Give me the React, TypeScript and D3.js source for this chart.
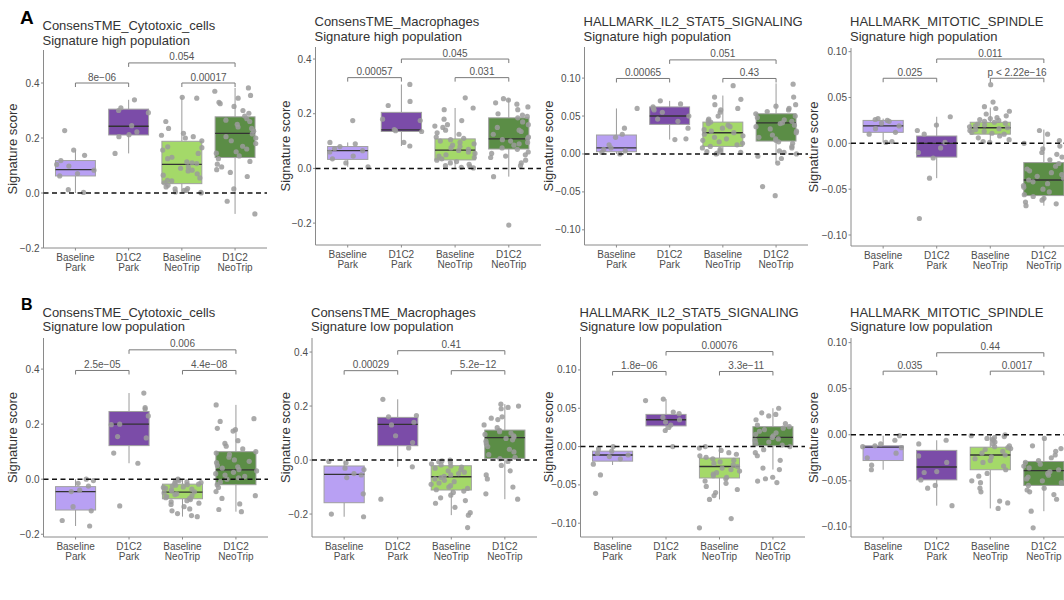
import React from "react";
import * as d3 from "d3";

// ---------- categories / styling ----------
const categories = ["Baseline Park", "D1C2 Park", "Baseline NeoTrip", "D1C2 NeoTrip"];
const categoryLines = [["Baseline", "Park"], ["D1C2", "Park"], ["Baseline", "NeoTrip"], ["D1C2", "NeoTrip"]];
const groupColors = ["#b8a0f3", "#7b4ca8", "#a4d969", "#5b8d46"];

const panelTitles = [
  "ConsensTME_Cytotoxic_cells", "ConsensTME_Macrophages", "HALLMARK_IL2_STAT5_SIGNALING", "HALLMARK_MITOTIC_SPINDLE",
  "ConsensTME_Cytotoxic_cells", "ConsensTME_Macrophages", "HALLMARK_IL2_STAT5_SIGNALING", "HALLMARK_MITOTIC_SPINDLE",
];
const panelSubtitles = [
  "Signature high population", "Signature high population", "Signature high population", "Signature high population",
  "Signature low population", "Signature low population", "Signature low population", "Signature low population",
];
// p-values: [Baseline Park vs D1C2 Park, D1C2 Park vs D1C2 NeoTrip, Baseline NeoTrip vs D1C2 NeoTrip]
const pValueLabels = [
  ["8e\u221206", "0.054", "0.00017"],
  ["0.00057", "0.045", "0.031"],
  ["0.00065", "0.051", "0.43"],
  ["0.025", "0.011", "p < 2.22e\u221216"],
  ["2.5e\u221205", "0.006", "4.4e\u221208"],
  ["0.00029", "0.41", "5.2e\u221212"],
  ["1.8e\u221206", "0.00076", "3.3e\u221211"],
  ["0.035", "0.44", "0.0017"],
];
const bracketLevels = [
  [0.4, 0.473], [0.332, 0.4], [0.0995, 0.124], [0.071, 0.092],
  [0.395, 0.47], [0.331, 0.405], [0.098, 0.124], [0.069, 0.089],
];
const yDomains = [
  [-0.2, 0.52], [-0.28, 0.444], [-0.12, 0.141], [-0.112, 0.104],
  [-0.21, 0.513], [-0.285, 0.452], [-0.118, 0.143], [-0.111, 0.105],
];
const yTicksWide = [-0.2, 0, 0.2, 0.4];
const yTicksNarrow = [-0.1, -0.05, 0, 0.05, 0.1];

// ---------- values: box stats [lower whisker, q1, median, q3, upper whisker] ----------
const cytoHighBoxes = [[0.0, 0.062, 0.085, 0.118, 0.156], [0.144, 0.211, 0.243, 0.305, 0.339], [0.0, 0.034, 0.104, 0.188, 0.348], [-0.076, 0.129, 0.217, 0.277, 0.382]];
const macroHighBoxes = [[0.006, 0.033, 0.065, 0.08, 0.095], [0.082, 0.135, 0.141, 0.205, 0.307], [0.0, 0.031, 0.067, 0.108, 0.221], [-0.03, 0.071, 0.108, 0.185, 0.255]];
const il2HighBoxes = [[0.0, 0.003, 0.008, 0.025, 0.06], [0.019, 0.039, 0.05, 0.062, 0.07], [0.0, 0.01, 0.028, 0.042, 0.077], [-0.012, 0.017, 0.041, 0.053, 0.093]];
const mitoHighBoxes = [[0.001, 0.012, 0.019, 0.025, 0.027], [-0.038, -0.015, 0.0, 0.008, 0.029], [0.0, 0.01, 0.017, 0.023, 0.039], [-0.068, -0.057, -0.04, -0.021, 0.015]];
const cytoLowBoxes = [[-0.17, -0.112, -0.045, -0.027, 0.0], [0.058, 0.122, 0.2, 0.246, 0.313], [-0.136, -0.071, -0.047, -0.018, 0.0], [-0.118, -0.02, 0.034, 0.1, 0.27]];
const macroLowBoxes = [[-0.21, -0.158, -0.053, -0.022, -0.002], [-0.025, 0.053, 0.132, 0.158, 0.225], [-0.204, -0.111, -0.062, -0.021, 0.0], [-0.145, 0.006, 0.083, 0.111, 0.207]];
const il2LowBoxes = [[-0.024, -0.019, -0.011, -0.006, 0.0], [0.021, 0.027, 0.035, 0.042, 0.062], [-0.069, -0.041, -0.026, -0.015, 0.0], [-0.03, 0.001, 0.012, 0.026, 0.05]];
const mitoLowBoxes = [[-0.038, -0.028, -0.0135, -0.012, -0.001], [-0.077, -0.049, -0.035, -0.017, -0.006], [-0.08, -0.038, -0.022, -0.0135, 0.0], [-0.083, -0.055, -0.039, -0.029, -0.004]];

// ---------- values: individual samples ----------
const cytoHighPoints = [
  [0.227, 0.156, 0.137, 0.118, 0.104, 0.098, 0.083, 0.071, 0.062, 0.012, 0.002],
  [0.339, 0.31, 0.3, 0.292, 0.245, 0.222, 0.212, 0.205, 0.144],
  [0.348, 0.345, 0.26, 0.235, 0.217, 0.21, 0.205, 0.2, 0.19, 0.168, 0.165, 0.156, 0.144, 0.13, 0.125, 0.113, 0.11, 0.107, 0.095, 0.09, 0.083, 0.08, 0.07, 0.065, 0.055, 0.046, 0.044, 0.037, 0.028, 0.022, 0.016, 0.015, 0.01, 0.009, 0.004, 0.002, 0.0],
  [0.382, 0.37, 0.355, 0.345, 0.33, 0.325, 0.315, 0.3, 0.29, 0.28, 0.27, 0.265, 0.26, 0.25, 0.24, 0.235, 0.225, 0.215, 0.205, 0.2, 0.19, 0.18, 0.17, 0.16, 0.15, 0.145, 0.135, 0.125, 0.115, 0.105, 0.095, 0.085, 0.075, 0.06, 0.015, -0.03, -0.076],
];
const macroHighPoints = [
  [0.175, 0.095, 0.09, 0.08, 0.072, 0.065, 0.06, 0.045, 0.035, 0.02, 0.006],
  [0.307, 0.245, 0.23, 0.18, 0.175, 0.142, 0.138, 0.135, 0.095, 0.082],
  [0.258, 0.221, 0.215, 0.18, 0.175, 0.16, 0.155, 0.15, 0.14, 0.13, 0.125, 0.115, 0.11, 0.105, 0.1, 0.095, 0.09, 0.085, 0.08, 0.075, 0.07, 0.066, 0.06, 0.055, 0.05, 0.045, 0.04, 0.035, 0.03, 0.025, 0.02, 0.015, 0.01, 0.007, 0.004, 0.002],
  [0.255, 0.25, 0.24, 0.235, 0.225, 0.215, 0.2, 0.195, 0.19, 0.185, 0.17, 0.16, 0.15, 0.14, 0.135, 0.125, 0.115, 0.11, 0.105, 0.1, 0.095, 0.09, 0.085, 0.075, 0.07, 0.06, 0.055, 0.05, 0.045, 0.04, 0.03, 0.02, 0.01, -0.03, -0.207],
];
const il2HighPoints = [
  [0.06, 0.034, 0.026, 0.022, 0.012, 0.008, 0.006, 0.004, 0.002, 0.0],
  [0.07, 0.066, 0.062, 0.06, 0.058, 0.055, 0.05, 0.046, 0.043, 0.034, 0.02, 0.019],
  [0.09, 0.075, 0.072, 0.065, 0.06, 0.058, 0.055, 0.05, 0.046, 0.044, 0.042, 0.04, 0.038, 0.036, 0.034, 0.032, 0.03, 0.028, 0.026, 0.024, 0.022, 0.02, 0.018, 0.016, 0.014, 0.012, 0.01, 0.008, 0.006, 0.004, 0.003, 0.002, 0.001, 0.0],
  [0.092, 0.075, 0.065, 0.063, 0.06, 0.058, 0.056, 0.053, 0.05, 0.048, 0.045, 0.043, 0.041, 0.04, 0.038, 0.036, 0.033, 0.03, 0.028, 0.025, 0.022, 0.02, 0.018, 0.016, 0.014, 0.01, 0.008, 0.004, 0.002, 0.0, -0.003, -0.006, -0.012, -0.043, -0.055],
];
const mitoHighPoints = [
  [0.027, 0.026, 0.025, 0.024, 0.022, 0.019, 0.016, 0.012, 0.01, 0.002, 0.001],
  [0.029, 0.02, 0.014, 0.01, 0.001, -0.005, -0.01, -0.016, -0.038, -0.082],
  [0.064, 0.045, 0.04, 0.038, 0.035, 0.032, 0.03, 0.028, 0.027, 0.026, 0.025, 0.024, 0.023, 0.022, 0.021, 0.02, 0.019, 0.018, 0.017, 0.016, 0.015, 0.014, 0.013, 0.012, 0.011, 0.01, 0.008, 0.006, 0.004, 0.002, 0.001],
  [0.014, 0.01, 0.003, 0.0, -0.003, -0.006, -0.01, -0.012, -0.015, -0.018, -0.022, -0.025, -0.028, -0.03, -0.032, -0.034, -0.036, -0.038, -0.04, -0.042, -0.044, -0.046, -0.048, -0.05, -0.053, -0.056, -0.058, -0.06, -0.062, -0.064, -0.066, -0.068],
];
const cytoLowPoints = [
  [0.0, -0.005, -0.015, -0.025, -0.04, -0.045, -0.1, -0.115, -0.15, -0.17],
  [0.313, 0.26, 0.255, 0.23, 0.2, 0.198, 0.155, 0.15, 0.095, 0.058, -0.097],
  [0.0, -0.002, -0.005, -0.008, -0.01, -0.012, -0.015, -0.018, -0.02, -0.022, -0.025, -0.028, -0.03, -0.033, -0.036, -0.04, -0.043, -0.046, -0.05, -0.053, -0.056, -0.06, -0.063, -0.067, -0.07, -0.074, -0.078, -0.082, -0.087, -0.092, -0.1, -0.108, -0.115, -0.125, -0.132, -0.136],
  [0.27, 0.22, 0.21, 0.185, 0.18, 0.175, 0.14, 0.13, 0.12, 0.11, 0.1, 0.095, 0.09, 0.08, 0.07, 0.065, 0.06, 0.05, 0.045, 0.04, 0.035, 0.03, 0.025, 0.02, 0.015, 0.01, 0.005, 0.0, -0.01, -0.02, -0.03, -0.045, -0.06, -0.07, -0.09, -0.11, -0.118],
];
const macroLowPoints = [
  [-0.005, -0.01, -0.03, -0.035, -0.05, -0.055, -0.065, -0.125, -0.2, -0.21],
  [0.225, 0.165, 0.16, 0.14, 0.13, 0.09, 0.065, 0.045, -0.025, -0.145],
  [0.0, -0.003, -0.006, -0.01, -0.014, -0.018, -0.022, -0.026, -0.03, -0.035, -0.04, -0.045, -0.05, -0.055, -0.06, -0.065, -0.07, -0.075, -0.08, -0.085, -0.09, -0.095, -0.1, -0.105, -0.11, -0.115, -0.12, -0.13, -0.14, -0.15, -0.16, -0.175, -0.195, -0.204, -0.25],
  [0.207, 0.2, 0.195, 0.19, 0.16, 0.155, 0.15, 0.13, 0.12, 0.11, 0.105, 0.1, 0.095, 0.09, 0.085, 0.08, 0.075, 0.07, 0.06, 0.05, 0.04, 0.03, 0.02, 0.01, 0.005, -0.005, -0.02, -0.04, -0.055, -0.07, -0.1, -0.125, -0.145],
];
const il2LowPoints = [
  [0.0, -0.003, -0.006, -0.009, -0.011, -0.013, -0.016, -0.023, -0.037, -0.061],
  [0.062, 0.06, 0.045, 0.043, 0.038, 0.035, 0.032, 0.028, 0.025, 0.021, 0.0],
  [0.0, -0.002, -0.005, -0.008, -0.01, -0.012, -0.014, -0.016, -0.018, -0.02, -0.022, -0.024, -0.026, -0.028, -0.03, -0.032, -0.034, -0.036, -0.038, -0.04, -0.042, -0.045, -0.048, -0.052, -0.056, -0.06, -0.064, -0.069, -0.094, -0.106],
  [0.05, 0.044, 0.042, 0.04, 0.035, 0.03, 0.028, 0.026, 0.024, 0.022, 0.02, 0.018, 0.016, 0.014, 0.012, 0.01, 0.008, 0.006, 0.004, 0.002, 0.0, -0.004, -0.008, -0.012, -0.018, -0.028, -0.03, -0.04, -0.042, -0.045, -0.047],
];
const mitoLowPoints = [
  [-0.001, -0.006, -0.01, -0.012, -0.013, -0.014, -0.02, -0.025, -0.033, -0.038],
  [-0.006, -0.01, -0.023, -0.03, -0.04, -0.041, -0.049, -0.055, -0.058, -0.077],
  [0.0, -0.001, -0.002, -0.003, -0.004, -0.005, -0.006, -0.008, -0.01, -0.012, -0.013, -0.014, -0.015, -0.016, -0.018, -0.02, -0.022, -0.024, -0.026, -0.028, -0.03, -0.034, -0.038, -0.042, -0.045, -0.05, -0.052, -0.058, -0.062, -0.072, -0.074, -0.08],
  [-0.004, -0.012, -0.015, -0.018, -0.022, -0.025, -0.028, -0.03, -0.032, -0.034, -0.036, -0.038, -0.04, -0.042, -0.044, -0.046, -0.048, -0.05, -0.052, -0.055, -0.058, -0.06, -0.062, -0.065, -0.07, -0.083, -0.101],
];

const panelBoxes = [cytoHighBoxes, macroHighBoxes, il2HighBoxes, mitoHighBoxes, cytoLowBoxes, macroLowBoxes, il2LowBoxes, mitoLowBoxes];
const panelPoints = [cytoHighPoints, macroHighPoints, il2HighPoints, mitoHighPoints, cytoLowPoints, macroLowPoints, il2LowPoints, mitoLowPoints];

// ---------- layout (pixel geometry of each panel) ----------
const layouts = [
  { x0: 43.5, x1: 267, y0: 50, y1: 248, t1: 30, t2: 44.5, yt: 12 },
  { x0: 315.5, x1: 541, y0: 47, y1: 245, t1: 26, t2: 40.5, yt: 285 },
  { x0: 584.5, x1: 808, y0: 47, y1: 245, t1: 26, t2: 40.5, yt: 548 },
  { x0: 851, x1: 1076, y0: 48, y1: 246, t1: 26, t2: 40.5, yt: 813 },
  { x0: 43.5, x1: 268, y0: 338, y1: 537, t1: 316.5, t2: 331, yt: 12 },
  { x0: 312, x1: 537, y0: 338, y1: 537, t1: 316.5, t2: 331, yt: 285 },
  { x0: 580.5, x1: 805, y0: 337, y1: 537, t1: 316.5, t2: 331, yt: 548 },
  { x0: 851, x1: 1076, y0: 338, y1: 537, t1: 316.5, t2: 331, yt: 813 },
];

const FONT = "'Liberation Sans', Arial, Helvetica, sans-serif";
const AXIS = "#8a8a8a";
const TXT = "#4d4d4d";

function jitterGen(seed: number) {
  let s = seed >>> 0;
  return () => {
    s = (s * 1664525 + 1013904223) >>> 0;
    return s / 4294967296;
  };
}

const fmtMinus = (s: string) => s.replace("-", "\u2212");

function Panel({ idx }: { idx: number }) {
  const L = layouts[idx];
  const x = d3.scalePoint<string>().domain(categories).range([L.x0, L.x1]).padding(0.6);
  const step = x.step();
  const bw = step * 0.75;
  const y = d3.scaleLinear().domain(yDomains[idx]).range([L.y1, L.y0]);
  const narrow = idx % 4 >= 2;
  const ticks = narrow ? yTicksNarrow : yTicksWide;
  const fmt = narrow ? d3.format(".2f") : d3.format(".1f");
  const boxes = panelBoxes[idx];
  const pts = panelPoints[idx];
  const rnd = jitterGen(idx * 977 + 13);
  const pairs: [number, number, number][] = [[0, 1, 0], [1, 3, 1], [2, 3, 0]];
  const midY = (L.y0 + L.y1) / 2;

  return (
    <g>
      <text x={L.x0 - 1} y={L.t1} fontSize={13} fill="#333" fontFamily={FONT}>{panelTitles[idx]}</text>
      <text x={L.x0 - 1} y={L.t2} fontSize={13} fill="#333" fontFamily={FONT}>{panelSubtitles[idx]}</text>
      <text transform={`translate(${L.yt},${midY}) rotate(-90)`} textAnchor="middle" dominantBaseline="central" fontSize={13} fill="#333" fontFamily={FONT}>Signature score</text>

      {/* axes */}
      <line x1={L.x0} x2={L.x0} y1={L.y0} y2={L.y1} stroke={AXIS} strokeWidth={1} />
      <line x1={L.x0} x2={L.x1} y1={L.y1} y2={L.y1} stroke={AXIS} strokeWidth={1} />
      {ticks.map((t) => (
        <g key={t}>
          <line x1={L.x0 - 2.5} x2={L.x0} y1={y(t)} y2={y(t)} stroke={AXIS} />
          <text x={L.x0 - 4} y={y(t)} dy="0.35em" textAnchor="end" fontSize={10} fill={TXT} fontFamily={FONT}>{fmtMinus(fmt(t))}</text>
        </g>
      ))}
      {categories.map((c, i) => (
        <g key={c}>
          <line x1={x(c)} x2={x(c)} y1={L.y1} y2={L.y1 + 2.5} stroke={AXIS} />
          <text x={x(c)} y={L.y1 + 12.5} textAnchor="middle" fontSize={10} fill={TXT} fontFamily={FONT}>{categoryLines[i][0]}</text>
          <text x={x(c)} y={L.y1 + 22.5} textAnchor="middle" fontSize={10} fill={TXT} fontFamily={FONT}>{categoryLines[i][1]}</text>
        </g>
      ))}

      {/* boxes */}
      {categories.map((c, i) => {
        const [lo, q1, med, q3, hi] = boxes[i];
        const cx = x(c) as number;
        return (
          <g key={c}>
            <line x1={cx} x2={cx} y1={y(hi)} y2={y(q3)} stroke="#9a9a9a" strokeWidth={1} />
            <line x1={cx} x2={cx} y1={y(q1)} y2={y(lo)} stroke="#9a9a9a" strokeWidth={1} />
            <rect x={cx - bw / 2} y={y(q3)} width={bw} height={y(q1) - y(q3)} fill={groupColors[i]} stroke="#a0a0a0" strokeWidth={1} />
            <line x1={cx - bw / 2} x2={cx + bw / 2} y1={y(med)} y2={y(med)} stroke="#333" strokeWidth={1.4} />
          </g>
        );
      })}

      {/* jittered samples */}
      {categories.map((c, i) => {
        const cx = x(c) as number;
        return pts[i].map((v, k) => (
          <circle key={`${i}-${k}`} cx={cx + (rnd() - 0.5) * 0.78 * step} cy={y(v)} r={2.6} fill="#9b9b9b" fillOpacity={0.85} />
        ));
      })}

      {/* zero line */}
      <line x1={L.x0} x2={L.x1} y1={y(0)} y2={y(0)} stroke="#111" strokeWidth={1.5} strokeDasharray="5,3.5" />

      {/* brackets */}
      {pairs.map(([a, b, lvl], k) => {
        const xa = x(categories[a]) as number;
        const xb = x(categories[b]) as number;
        const yy = y(bracketLevels[idx][lvl]);
        return (
          <g key={k}>
            <path d={`M${xa},${yy + 4}V${yy}H${xb}V${yy + 4}`} fill="none" stroke="#7a7a7a" strokeWidth={1} />
            <text x={(xa + xb) / 2} y={yy - 2.5} textAnchor="middle" fontSize={10} fill="#555" fontFamily={FONT}>{pValueLabels[idx][k]}</text>
          </g>
        );
      })}
    </g>
  );
}

export default function App() {
  return (
    <svg width={1064} height={600} style={{ position: "absolute", left: 0, top: 0, background: "#fff" }}>
      <rect width={1064} height={600} fill="#fff" />
      <text x={20} y={24} fontSize={19} fontWeight="bold" fill="#000" fontFamily={FONT}>A</text>
      <text x={21} y={309.5} fontSize={16} fontWeight="bold" fill="#000" fontFamily={FONT}>B</text>
      {layouts.map((_, i) => (
        <Panel key={i} idx={i} />
      ))}
    </svg>
  );
}
